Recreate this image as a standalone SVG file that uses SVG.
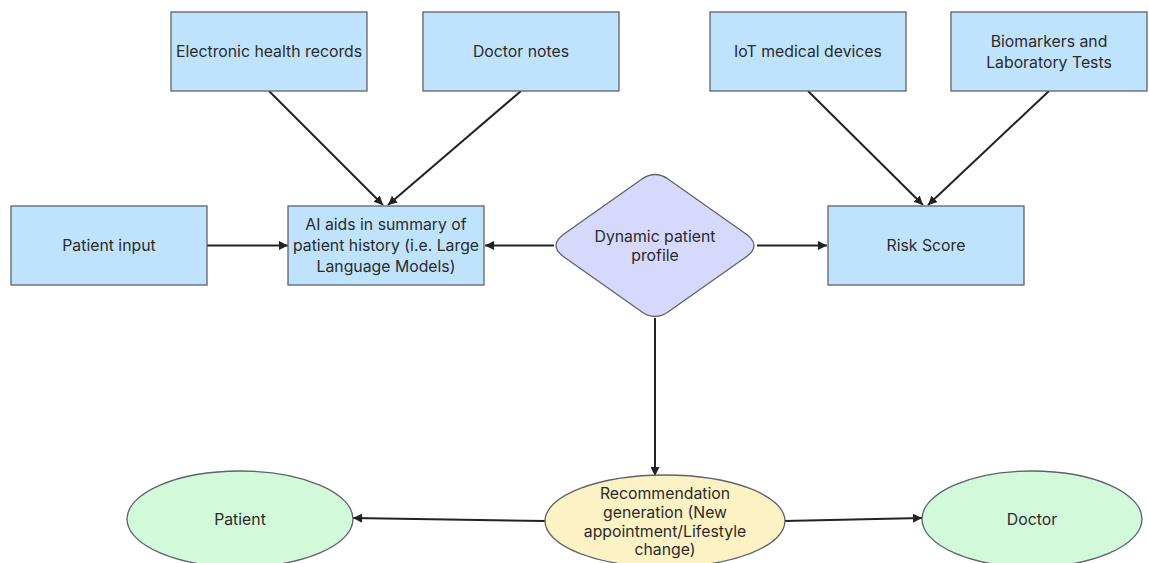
<svg xmlns="http://www.w3.org/2000/svg" width="1149" height="563" viewBox="0 0 1149 563">
<style>
.box{fill:#bfe3fd;stroke:#5f6368;stroke-width:1.3}
.dia{fill:#d6d9fc;stroke:#5f6368;stroke-width:1.3}
.grn{fill:#d3f9db;stroke:#5f6368;stroke-width:1.3}
.yel{fill:#fdf2c3;stroke:#5f6368;stroke-width:1.3}
text{font-family:Inter,"Noto Sans","Liberation Sans",sans-serif;font-size:15.8px;fill:#2b2b2b;text-anchor:middle;dominant-baseline:central}
.ln{stroke:#222;stroke-width:2;fill:none;marker-end:url(#ah)}
</style>
<defs>
<marker id="ah" viewBox="0 0 10 10" refX="10" refY="5" markerWidth="4.5" markerHeight="4.5" orient="auto" markerUnits="strokeWidth">
<path d="M0,0L10,5L0,10z" fill="#222"/>
</marker>
</defs>
<g id="connectors">
<line class="ln" x1="269" y1="91" x2="383" y2="205"/>
<line class="ln" x1="521" y1="91" x2="388" y2="205"/>
<line class="ln" x1="808" y1="91" x2="923" y2="205"/>
<line class="ln" x1="1049" y1="91" x2="928" y2="205"/>
<line class="ln" x1="207" y1="245.5" x2="288" y2="245.5"/>
<line class="ln" x1="554" y1="245.5" x2="485" y2="245.5"/>
<line class="ln" x1="757" y1="245.5" x2="827" y2="245.5"/>
<line class="ln" x1="655" y1="318" x2="655" y2="476"/>
<line class="ln" x1="545" y1="521" x2="353" y2="518"/>
<line class="ln" x1="784" y1="521" x2="922" y2="518"/>
</g>
<g id="ehr"><rect class="box" x="171" y="12" width="196" height="79"/><text x="269" y="51.5">Electronic health records</text></g>
<g id="notes"><rect class="box" x="423" y="12" width="196" height="79"/><text x="521" y="51.5">Doctor notes</text></g>
<g id="iot"><rect class="box" x="710" y="12" width="196" height="79"/><text x="808" y="51.5">IoT medical devices</text></g>
<g id="bio"><rect class="box" x="951" y="12" width="196" height="79"/><text x="1049" y="41.5">Biomarkers and</text><text x="1049" y="62">Laboratory Tests</text></g>
<g id="patient-input"><rect class="box" x="11" y="206" width="196" height="79"/><text x="109" y="245.5">Patient input</text></g>
<g id="ai"><rect class="box" x="288" y="206" width="196" height="79"/><text x="386" y="224.5">AI aids in summary of</text><text x="386" y="245.5">patient history (i.e. Large</text><text x="386" y="266.5">Language Models)</text></g>
<g id="profile"><path class="dia" d="M642,179Q655,170 668,179L746,234Q762,245.5 746,257L668,312Q655,321 642,312L564,257Q548,245.5 564,234Z"/><text x="655" y="236">Dynamic patient</text><text x="655" y="255">profile</text></g>
<g id="risk"><rect class="box" x="828" y="206" width="196" height="79"/><text x="926" y="245.5">Risk Score</text></g>
<g id="recommendation"><ellipse class="yel" cx="665" cy="521" rx="120" ry="46"/><text x="665" y="493">Recommendation</text><text x="665" y="512">generation (New</text><text x="665" y="531">appointment/Lifestyle</text><text x="665" y="549">change)</text></g>
<g id="patient"><ellipse class="grn" cx="240" cy="519" rx="113" ry="48"/><text x="240" y="519">Patient</text></g>
<g id="doctor"><ellipse class="grn" cx="1032" cy="519" rx="110" ry="48"/><text x="1032" y="519">Doctor</text></g>
</svg>
